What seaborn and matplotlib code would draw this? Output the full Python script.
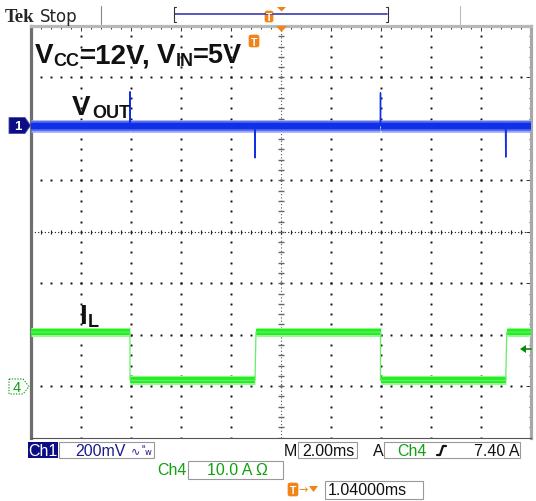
import numpy as np
import pandas as pd
import matplotlib
matplotlib.use("Agg")
import matplotlib.pyplot as plt
import seaborn as sns
from matplotlib.patches import Rectangle, Polygon, FancyBboxPatch

# --- values (2 ms/div, 10 divisions) ---
# inductor current, Ch4, 10 A/div
t_il = [0.0, 3.96, 3.96, 8.96, 9.00, 13.98, 13.98, 18.99, 19.03, 20.0]
il_amps = [10.5, 10.5, 1.1, 1.1, 10.5, 10.5, 1.1, 1.1, 10.5, 10.5]

# output ripple, Ch1, 200 mV/div
t_vout = [0.0, 3.95, 3.96, 3.97, 8.95, 8.96, 8.97, 13.97, 13.98, 13.99, 18.98, 18.99, 19.0, 20.0]
vout_mv = [0, 0, 132, 0, 0, -125, 0, 0, 128, 0, 0, -122, 0, 0]

ch1_scale = "200mV"
ch4_scale = "10.0 A"
timebase = "2.00ms"
trig_level = "7.40 A"
trig_delay = "1.04000ms"

sns.set_style("white")
plt.rcParams["lines.scale_dashes"] = False

W, H = 536, 502
fig = plt.figure(figsize=(W / 100, H / 100), dpi=100)
fig.patch.set_facecolor("white")

# graticule box in pixels
gx0, gx1, gy0, gy1 = 31, 531, 27, 438.6
rect = [gx0 / W, 1 - gy1 / H, (gx1 - gx0) / W, (gy1 - gy0) / H]

ax = fig.add_axes(rect, zorder=1)
ax.set_xlim(0, 10)
ax.set_ylim(-4, 4)
ax.set_facecolor("white")
ax.set_xticks(np.arange(0, 11, 1))
ax.set_yticks(np.arange(-4, 5, 1))
ax.set_xticks(np.arange(0, 10.01, 0.2), minor=True)
ax.set_yticks(np.arange(-4, 4.01, 0.2), minor=True)
ax.tick_params(which="both", direction="in", top=True, right=True,
               labelbottom=False, labelleft=False, color="#333", width=0.7)
ax.tick_params(which="major", length=3.5)
ax.tick_params(which="minor", length=1.8)
ax.spines["left"].set_color("#6e6e6e")
ax.spines["left"].set_linewidth(2.3)
ax.spines["top"].set_color("#b8b8b8")
ax.spines["top"].set_linewidth(2.3)
ax.spines["right"].set_color("#a8a8a8")
ax.spines["right"].set_linewidth(2.3)
ax.spines["bottom"].set_color("#555")
ax.spines["bottom"].set_linewidth(0.8)

# dotted grid
fine = np.arange(0, 10.01, 0.2)
fine_y = np.arange(-4, 4.01, 0.2)
for xv in [1, 2, 3, 4, 6, 7, 8, 9]:
    ax.plot(np.full_like(fine_y, xv), fine_y, ls="none", marker="s", ms=1.4, color="#111", mew=0)
for yv in [-3, -2, -1, 1, 2, 3]:
    ax.plot(fine, np.full_like(fine, yv), ls="none", marker="s", ms=1.4, color="#111", mew=0)
ax.axhline(0, color="#222", lw=0.8, ls=(0, (0.8, 1.6)))
ax.axvline(5, color="#555", lw=0.8, ls=(0, (0.8, 1.6)))
ax.plot(fine, np.zeros_like(fine), ls="none", marker="|", ms=3.5, mew=0.8, color="#222")
ax.plot(np.full_like(fine_y, 5), fine_y, ls="none", marker="_", ms=4, mew=1.0, color="#666")

# channel axes
ax_v = fig.add_axes(rect, zorder=2)
ax_v.patch.set_alpha(0)
ax_v.axis("off")

ax_i = fig.add_axes(rect, zorder=3)
ax_i.patch.set_alpha(0)
ax_i.axis("off")


def flat_segments(t, y):
    rows = []
    seg = 0
    for k in range(len(t) - 1):
        if y[k] == y[k + 1]:
            rows.append((t[k], y[k], seg))
            rows.append((t[k + 1], y[k + 1], seg))
            seg += 1
    return pd.DataFrame(rows, columns=["t", "y", "seg"])


vout = pd.DataFrame({"t": t_vout, "y": vout_mv})
il = pd.DataFrame({"t": t_il, "y": il_amps})
vband = flat_segments(t_vout, vout_mv)
iband = flat_segments(t_il, il_amps)

blue = "#1030e8"
green = "#22ee22"
sns.lineplot(data=vband, x="t", y="y", units="seg", estimator=None, sort=False,
             color="#98a4f4", lw=9.0, solid_capstyle="butt", ax=ax_v, legend=False)
sns.lineplot(data=vband, x="t", y="y", units="seg", estimator=None, sort=False,
             color="#5068ee", lw=7.0, solid_capstyle="butt", ax=ax_v, legend=False)
sns.lineplot(data=vband, x="t", y="y", units="seg", estimator=None, sort=False,
             color=blue, lw=4.6, solid_capstyle="butt", ax=ax_v, legend=False)
sns.lineplot(data=vout, x="t", y="y", estimator=None, sort=False,
             color=blue, lw=1.0, ax=ax_v, legend=False)

sns.lineplot(data=iband, x="t", y="y", units="seg", estimator=None, sort=False,
             color="#9af69a", lw=6.6, solid_capstyle="butt", ax=ax_i, legend=False)
sns.lineplot(data=iband, x="t", y="y", units="seg", estimator=None, sort=False,
             color=green, lw=4.4, solid_capstyle="butt", ax=ax_i, legend=False)
sns.lineplot(data=il, x="t", y="y", estimator=None, sort=False,
             color="#66ee66", lw=0.9, ax=ax_i, legend=False)
for a in (ax_v, ax_i):
    a.set_xlim(0, 20)
ax_v.set_ylim((-4 - 2.062) * 200, (4 - 2.062) * 200)
ax_i.set_ylim(-10, 70)

# overlay in pixel coordinates for the scope decorations
ov = fig.add_axes([0, 0, 1, 1], zorder=5)
ov.set_xlim(0, W)
ov.set_ylim(H, 0)
ov.axis("off")
ov.patch.set_alpha(0)

orange = "#f08418"
navy = "#0c0c84"
sgreen = "#12a012"


def t_icon(x, y, w, h):
    ov.add_patch(FancyBboxPatch((x, y), w, h, boxstyle="round,pad=0,rounding_size=2",
                                fc=orange, ec=orange, lw=0.5))
    ov.text(x + w / 2, y + h / 2 + 0.5, "T", color="white", fontsize=7.5, weight="bold",
            ha="center", va="center", family="Liberation Sans")


def big(x, y, s, size=20):
    ov.text(x, y, s, fontsize=size, weight="bold", va="baseline", family="Liberation Sans", color="#111")


# top bar
ov.text(5, 22, "Tek", family="Liberation Serif", weight="bold", fontsize=13.5, va="baseline")
ov.text(40, 22, "Stop", family="DejaVu Sans", fontsize=12, va="baseline")
ov.plot([101, 101], [7, 25], color="#888", lw=0.8)
ov.plot([460, 460], [7, 25], color="#bbb", lw=0.8)
ov.plot([175, 387], [15, 15], color="#3b3bb0", lw=1.2)
ov.plot([176, 174, 174, 176], [8, 8, 23, 23], color="#333", lw=0.8)
ov.plot([386, 388, 388, 386], [8, 8, 23, 23], color="#333", lw=0.8)
t_icon(265, 12, 8, 11)
ov.add_patch(Polygon([[277, 8], [286, 8], [281.5, 12.5]], fc=orange, ec="none"))
ov.add_patch(Polygon([[276, 27], [287, 27], [281.5, 33]], fc=orange, ec="none"))
t_icon(249, 36, 10, 12)

# channel markers
ov.add_patch(Polygon([[9, 118.5], [25, 118.5], [30.5, 126.5], [25, 134.5], [9, 134.5]], fc=navy,
                     ec="#4a4ab0", lw=0.6))
ov.text(17.5, 127, "1", color="white", fontsize=9.5, weight="bold", ha="center", va="center",
        family="Liberation Sans")
ov.add_patch(Polygon([[9, 380], [23, 380], [29, 387.5], [23, 395], [9, 395]], fc="white",
                     ec=sgreen, lw=0.8, ls=(0, (1, 1))))
ov.text(16.5, 388, "4", color=sgreen, fontsize=10.5, ha="center", va="center", family="Liberation Sans")
ov.add_patch(Polygon([[520, 350], [526, 346], [526, 354]], fc="#0a8a0a", ec="none"))
ov.plot([525, 531], [350, 350], color="#0a8a0a", lw=1.2)

# labels on screen
big(35, 63, "V")
big(53, 66, "CC", 13)
big(80, 63, "=12V,")
big(157, 63, "V")
big(175.5, 66, "IN", 13)
big(193, 63, "=5V", 19.5)
big(72, 115, "V")
big(92, 118, "OUT", 13)
big(79.5, 324, "I")
big(88, 327, "L", 13)

# status bar
fs = 11.5
ov.add_patch(Rectangle((28, 443), 30, 16, fc=navy, ec="none"))
ov.text(43, 451.5, "Ch1", color="white", fontsize=fs, ha="center", va="center", family="Liberation Sans")
ov.add_patch(Rectangle((59, 443), 95, 16, fc="white", ec="#999", lw=0.8))
ov.text(75, 451.5, ch1_scale, color="#1a1a8c", fontsize=fs, va="center", family="Liberation Sans")
ov.text(131, 451.5, "∿", color="#1a1a8c", fontsize=8, va="center", family="DejaVu Sans")
ov.text(141, 449, "ᴮ", color="#1a1a8c", fontsize=6, va="center", family="DejaVu Sans")
ov.text(145, 453, "w", color="#1a1a8c", fontsize=6, va="center", family="DejaVu Sans")

ov.text(284, 451.5, "M", color="#111", fontsize=fs, va="center", family="Liberation Sans")
ov.add_patch(Rectangle((298, 443), 59, 16, fc="white", ec="#999", lw=0.8))
ov.text(302, 451.5, timebase, color="#111", fontsize=fs, va="center", family="Liberation Sans")

ov.text(373, 451.5, "A", color="#111", fontsize=fs, va="center", family="Liberation Sans")
ov.add_patch(Rectangle((384, 443), 136, 16, fc="white", ec="#999", lw=0.8))
ov.text(397, 451.5, "Ch4", color=sgreen, fontsize=fs, va="center", family="Liberation Sans")
ov.plot([437, 440, 443, 446], [456, 456, 447, 447], color="#111", lw=1.6)
ov.text(519, 451.5, trig_level, color="#111", fontsize=fs, va="center", ha="right",
        family="Liberation Sans")

ov.text(157, 471, "Ch4", color=sgreen, fontsize=fs, va="center", family="Liberation Sans")
ov.add_patch(Rectangle((188, 462), 95, 18, fc="white", ec="#999", lw=0.8))
ov.text(207, 471, ch4_scale + " Ω", color=sgreen, fontsize=fs, va="center", family="Liberation Sans")

t_icon(288, 484, 10, 13)
ov.text(303, 490.5, "→", color=orange, fontsize=8, ha="center", va="center", family="DejaVu Sans")
ov.add_patch(Polygon([[309, 487], [318, 487], [313.5, 493]], fc=orange, ec="none"))
ov.add_patch(Rectangle((325, 482), 98, 18, fc="white", ec="#999", lw=0.8))
ov.text(328, 491, trig_delay, color="#111", fontsize=fs, va="center", family="Liberation Sans")

fig.savefig("out.png", dpi=100)
